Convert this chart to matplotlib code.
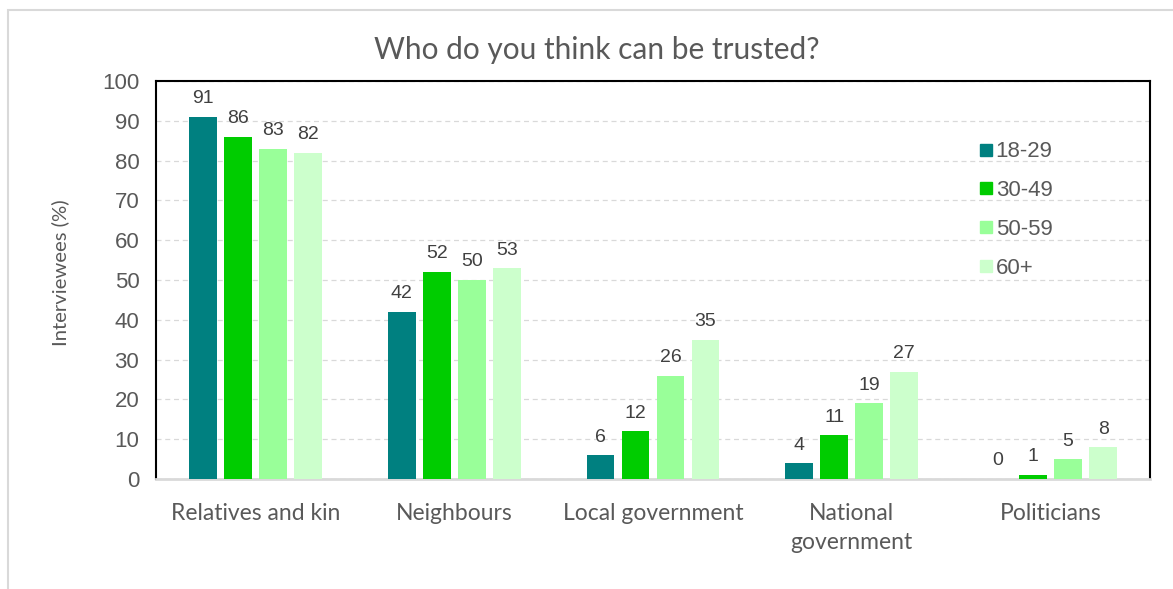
import numpy as np
import matplotlib
matplotlib.use("Agg")
import matplotlib.pyplot as plt
from matplotlib.patches import Rectangle
from matplotlib.lines import Line2D

categories = ["Relatives and kin", "Neighbours", "Local government",
              "National\ngovernment", "Politicians"]
age_groups = ["18-29", "30-49", "50-59", "60+"]
values = {
    "18-29": [91, 42, 6, 4, 0],
    "30-49": [86, 52, 12, 11, 1],
    "50-59": [83, 50, 26, 19, 5],
    "60+":   [82, 53, 35, 27, 8],
}
colors = ["#008080", "#00CC00", "#99FF99", "#CCFFCC"]
yticks = [0, 10, 20, 30, 40, 50, 60, 70, 80, 90, 100]

TEXT = "#595959"
W, H = 1173, 589
fig = plt.figure(figsize=(W / 100, H / 100), dpi=100)
ax = fig.add_axes([156 / W, 1 - 479 / H, 994 / W, 398 / H])

# outer chart frame
fig.patches.append(Rectangle((8 / W, -0.05), 2.0, 1 - 10 / H + 0.05,
                             transform=fig.transFigure, fill=False,
                             edgecolor="#d9d9d9", linewidth=1.5, zorder=0))

x = np.arange(len(categories))
bw = 0.14
pitch = 0.176
for i, (grp, col) in enumerate(zip(age_groups, colors)):
    xs = x + (i - 1.5) * pitch
    vals = values[grp]
    ax.bar(xs, vals, width=bw, color=col, zorder=3)
    for xi, v in zip(xs, vals):
        ax.text(xi, v + 2.4, f"{v}", ha="center", va="bottom",
                fontsize=14, color="#404040", family="Liberation Sans")

ax.set_xlim(-0.5, len(categories) - 0.5)
ax.set_ylim(0, 100)
ax.set_yticks(yticks)
ax.set_yticklabels([str(t) for t in yticks], fontsize=16, color=TEXT,
                   family="Liberation Sans")
ax.set_xticks(x)
ax.set_xticklabels(categories, fontsize=16.5, color=TEXT, family="Lato",
                   linespacing=1.5)
ax.tick_params(axis="both", length=0)
ax.tick_params(axis="x", pad=17)
ax.tick_params(axis="y", pad=12)
ax.yaxis.grid(True, linestyle=(0, (4, 3)), color="#d9d9d9", linewidth=0.9, zorder=0)
ax.set_axisbelow(True)

for s in ["left", "top", "right"]:
    ax.spines[s].set_color("black")
    ax.spines[s].set_linewidth(1.5)
ax.spines["bottom"].set_color("#d9d9d9")
ax.spines["bottom"].set_linewidth(2)

fig.text(60 / W, 1 - 273 / H, "Interviewees (%)", rotation=90, ha="center",
         va="center", fontsize=14.6, color=TEXT, family="Lato")
fig.text(597 / W, 1 - 50 / H, "Who do you think can be trusted?", ha="center",
         va="center", fontsize=21.5, color=TEXT, family="Lato")

handles = [Line2D([], [], marker="s", linestyle="none", markersize=8,
                  markerfacecolor=c, markeredgecolor=c) for c in colors]
leg = ax.legend(handles, age_groups, loc="center left",
                bbox_to_anchor=((979 - 156) / 994, (479 - 210) / 398),
                frameon=False, borderpad=0, borderaxespad=0,
                prop={"family": "Liberation Sans", "size": 16},
                labelspacing=0.8, handletextpad=0.15, handlelength=0.6)
for t in leg.get_texts():
    t.set_color(TEXT)

fig.savefig("out.png", dpi=100)
